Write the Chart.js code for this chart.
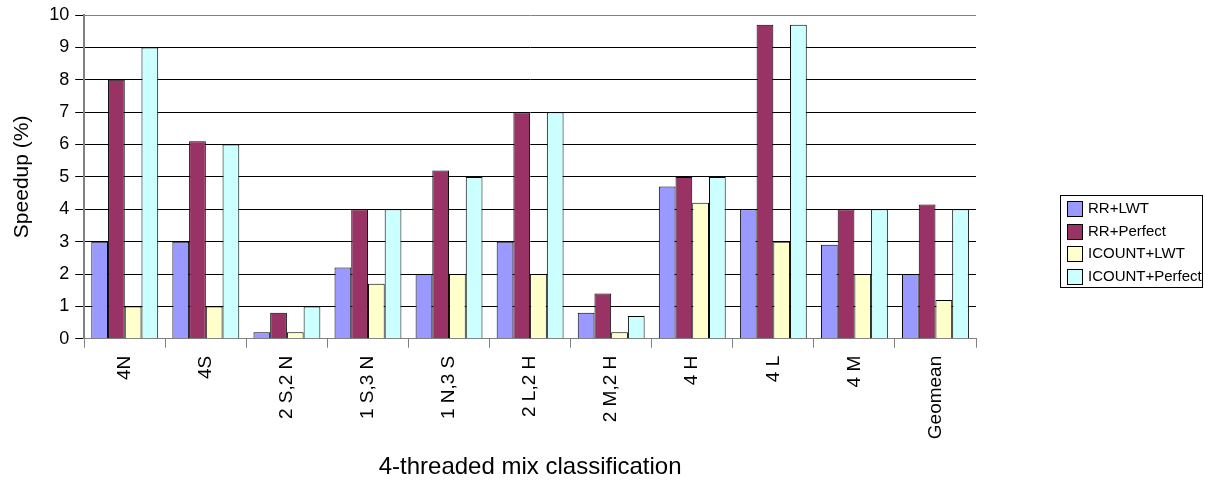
<!DOCTYPE html>
<html>
<head>
<meta charset="utf-8">
<script src="https://cdn.jsdelivr.net/npm/chart.js@4/dist/chart.umd.min.js"></script>
<style>
  html, body { margin: 0; padding: 0; background: #fff; }
  #wrap { width: 1205px; height: 482px; position: relative; }
</style>
</head>
<body>
<div id="wrap"><canvas id="c" width="1205" height="482"></canvas></div>
<script>
// Mix categories along the x axis
const categories = ['4N', '4S', '2 S,2 N', '1 S,3 N', '1 N,3 S', '2 L,2 H', '2 M,2 H', '4 H', '4 L', '4 M', 'Geomean'];

// Speedup (%) per configuration
const rrLwt        = [3.0, 3.0, 0.2, 2.2, 2.0, 3.0, 0.8, 4.7, 4.0, 2.9, 2.0];
const rrPerfect    = [8.0, 6.1, 0.8, 4.0, 5.2, 7.0, 1.4, 5.0, 9.7, 4.0, 4.15];
const icountLwt    = [1.0, 1.0, 0.2, 1.7, 2.0, 2.0, 0.2, 4.2, 3.0, 2.0, 1.2];
const icountPerfect= [9.0, 6.0, 1.0, 4.0, 5.0, 7.0, 0.7, 5.0, 9.7, 4.0, 4.0];

const seriesNames  = ['RR+LWT', 'RR+Perfect', 'ICOUNT+LWT', 'ICOUNT+Perfect'];
const seriesColors = ['#9999FF', '#993366', '#FFFFCC', '#CCFFFF'];

const yTicks = [0, 1, 2, 3, 4, 5, 6, 7, 8, 9, 10];

const FONT = '"Liberation Sans", Arial, sans-serif';

// Boxed legend on the right, centred vertically on the plot
const boxedLegend = {
  id: 'boxedLegend',
  afterDraw(chart) {
    const ctx = chart.ctx;
    const x = 1060, y = 195, w = 142, h = 92;
    ctx.save();
    ctx.fillStyle = '#fff';
    ctx.fillRect(x, y, w, h);
    ctx.strokeStyle = '#000';
    ctx.lineWidth = 1;
    ctx.strokeRect(x + 0.5, y + 0.5, w, h);
    ctx.font = '15px ' + FONT;
    ctx.textBaseline = 'middle';
    chart.data.datasets.forEach((ds, i) => {
      const ry = Math.round(y + 13 + i * 22.7);
      ctx.fillStyle = ds.backgroundColor;
      ctx.fillRect(x + 7, ry - 7, 15, 15);
      ctx.strokeStyle = '#000';
      ctx.strokeRect(x + 7.5, ry - 6.5, 15, 15);
      ctx.fillStyle = '#000';
      ctx.fillText(ds.label, x + 28, ry + 1);
    });
    ctx.restore();
  }
};

const datasets = [rrLwt, rrPerfect, icountLwt, icountPerfect].map((vals, i) => ({
  label: seriesNames[i],
  data: vals,
  backgroundColor: seriesColors[i],
  borderColor: '#000',
  borderWidth: 1,
  borderSkipped: 'bottom',
  barPercentage: 1.0,
  categoryPercentage: 0.825
}));

new Chart(document.getElementById('c'), {
  type: 'bar',
  data: { labels: categories, datasets },
  plugins: [boxedLegend],
  options: {
    responsive: false,
    animation: false,
    events: [],
    layout: { padding: { top: 9, right: 229, left: 10, bottom: 0 } },
    plugins: {
      legend: { display: false },
      tooltip: { enabled: false }
    },
    scales: {
      x: {
        offset: true,
        grid: {
          offset: true,
          drawOnChartArea: false,
          drawTicks: true,
          tickLength: 9,
          color: '#808080'
        },
        border: { display: true, color: '#808080', width: 1 },
        ticks: {
          autoSkip: false,
          minRotation: 90,
          maxRotation: 90,
          color: '#000',
          font: { family: FONT, size: 19 },
          padding: 8
        },
        title: {
          display: true,
          text: '4-threaded mix classification',
          color: '#000',
          font: { family: FONT, size: 24 },
          padding: { top: 6, bottom: 0 }
        }
      },
      y: {
        min: 0,
        max: 10,
        afterBuildTicks(axis) { axis.ticks = yTicks.map(v => ({ value: v })); },
        grid: {
          color: ctx => (ctx.tick && ctx.tick.value === 10) ? '#808080' : '#000',
          lineWidth: 1,
          drawTicks: true,
          tickLength: 9,
          tickColor: '#000'
        },
        border: { display: true, color: '#808080', width: 2 },
        ticks: {
          color: '#000',
          font: { family: FONT, size: 18, lineHeight: 1.0 },
          padding: 6
        },
        title: {
          display: true,
          text: 'Speedup (%)',
          color: '#000',
          font: { family: FONT, size: 21 },
          padding: { top: 0, bottom: 8 }
        }
      }
    }
  }
});
</script>
</body>
</html>
